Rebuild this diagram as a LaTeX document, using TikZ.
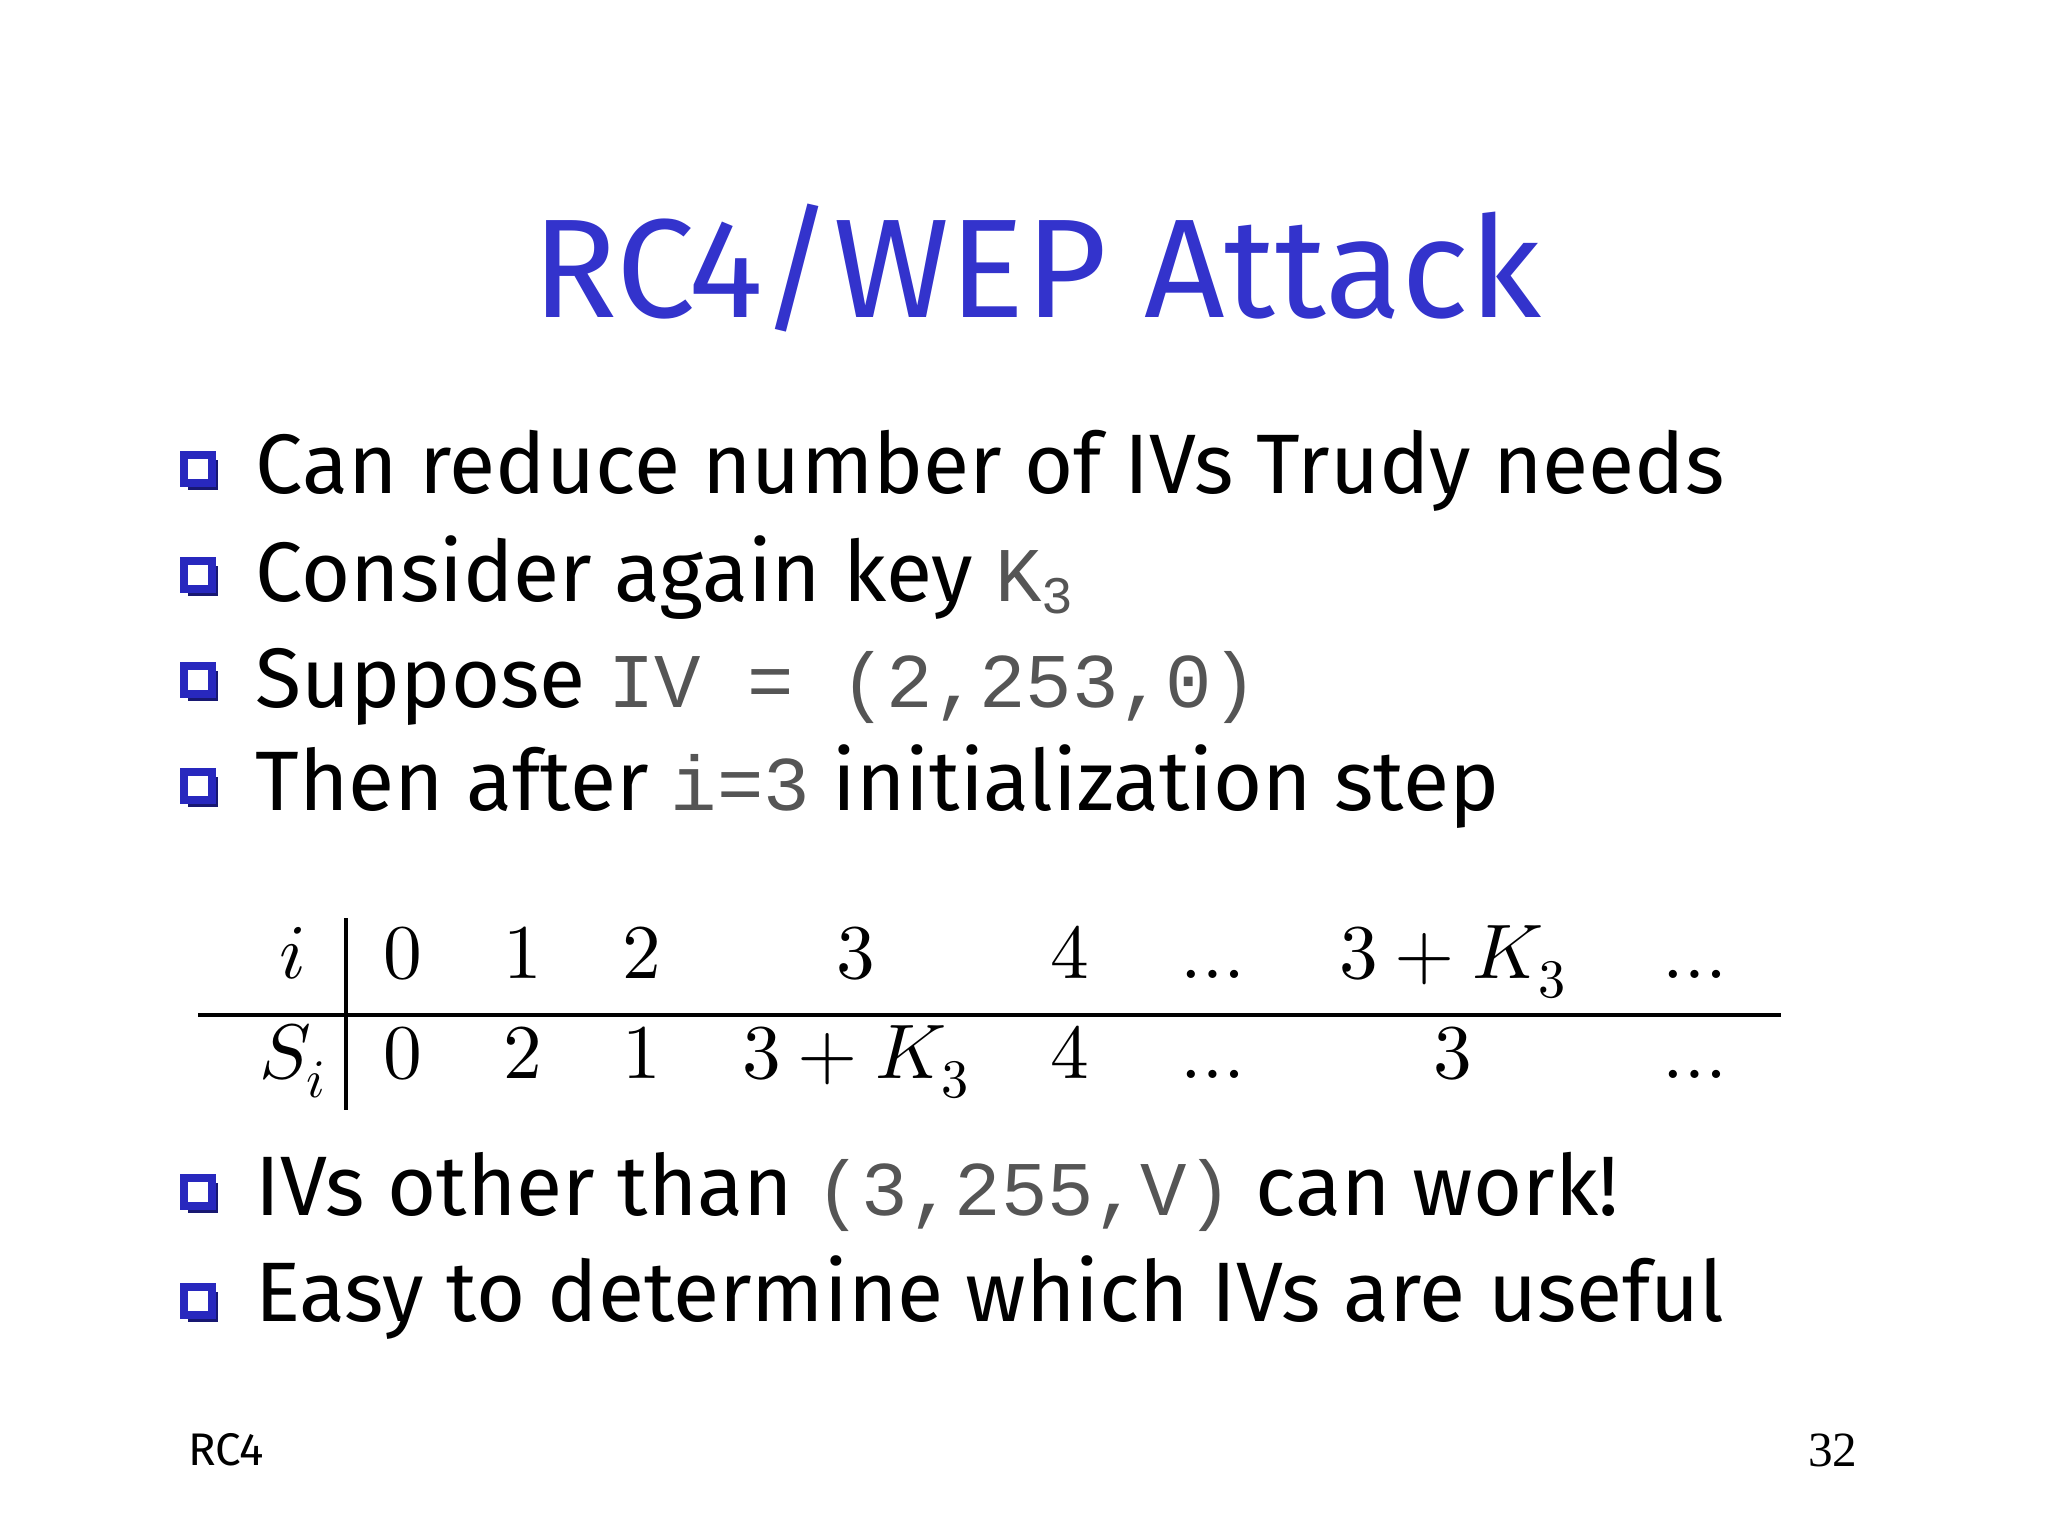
\documentclass[tikz,border=0pt]{standalone}
\usepackage{fontspec}
\setmainfont{Fira Sans}
\newfontfamily\cour{Liberation Mono}
\newfontfamily\serf{Liberation Serif}
\usepackage{unicode-math}
\setmathfont{Latin Modern Math}
\definecolor{ttl}{RGB}{51,51,204}
\definecolor{bul}{RGB}{40,40,190}
\definecolor{gtx}{RGB}{85,85,85}
\newcommand{\cw}[1]{{\fontsize{22}{26}\cour\color{gtx}#1}}
\begin{document}
\begin{tikzpicture}[x=0.01cm,y=-0.01cm,
  item/.style={anchor=base west,inner sep=0,font=\fontsize{24}{30}\selectfont},
  cell/.style={inner sep=0,font=\fontsize{22}{26}\selectfont},
  foot/.style={inner sep=0,font=\fontsize{13}{16}\selectfont}]
\useasboundingbox (0,0) rectangle (2048,1536);
\node[inner sep=0,text=ttl,font=\fontsize{40}{46}\selectfont] (title) at (1037,268) {RC4/WEP Attack};
\foreach \n/\y in {b1/469,b2/575,b3/680,b4/786,b5/1192,b6/1301}{
  \fill[bul!60!black] (188,\y-9) rectangle ++(30,30);
  \draw[bul,line width=2.5pt,fill=white] (184,\y-14) rectangle ++(28,28) coordinate (\n);
}
\node[item] (t1) at (255,493) {Can reduce number of IVs Trudy needs};
\node[item] (t2) at (255,601) {Consider again key \cw{K\raisebox{-0.3ex}{\fontsize{15}{18}\selectfont 3}}};
\node[item] (t3) at (255,707) {Suppose \cw{IV = (2,253,0)}};
\node[item] (t4) at (255,810) {Then after \cw{i=3} initialization step};
\node[item] (t5) at (255,1215) {IVs other than \cw{(3,255,V)} can work!};
\node[item] (t6) at (255,1321) {Easy to determine which IVs are useful};
% table
\draw[line width=1pt] (198,1015) coordinate (hl) -- (1781,1015) coordinate (hr);
\draw[line width=1pt] (346,918) coordinate (vt) -- (346,1110) coordinate (vb);
\foreach \x/\a/\b [count=\k] in {293/$i$/$S_i$, 403/$0$/$0$, 523/$1$/$2$, 642/$2$/$1$, 856/$3$/$3+K_3$, 1070/$4$/$4$, 1213/$\ldots$/$\ldots$, 1453/$3+K_3$/$3$, 1695/$\ldots$/$\ldots$}{
  \node[cell,anchor=base] (r\k) at (\x,978) {\a};
  \node[cell,anchor=base] (s\k) at (\x,1078) {\b};
}
\node[foot,anchor=west] (fl) at (188,1450) {RC4};
\node[foot,anchor=east,font=\fontsize{14}{16}\serf] (fr) at (1858,1450) {32};
\end{tikzpicture}
\end{document}
